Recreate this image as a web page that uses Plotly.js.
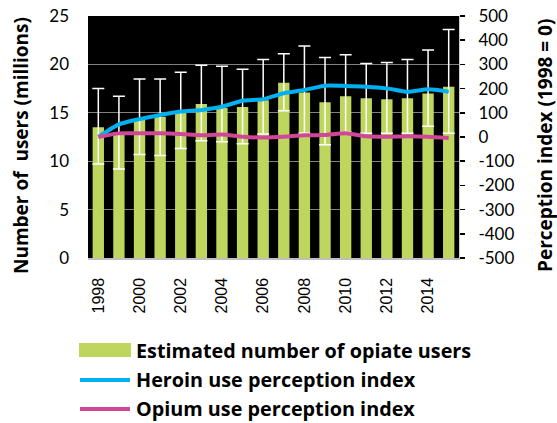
<!DOCTYPE html>
<html>
<head>
<meta charset="utf-8">
<script src="https://cdn.plot.ly/plotly-3.0.1.min.js"></script>
<style>html,body{margin:0;padding:0;background:#fff;}#chart{width:557px;height:423px;}</style>
</head>
<body>
<div id="chart"></div>
<script>
var years = [1998,1999,2000,2001,2002,2003,2004,2005,2006,2007,2008,2009,2010,2011,2012,2013,2014,2015];
var users = [13.5,13.0,14.3,14.6,15.0,15.9,15.5,15.6,16.3,18.1,17.1,16.1,16.7,16.5,16.4,16.5,17.0,17.7];
var usersHigh = [17.5,16.7,18.5,18.5,19.2,19.9,19.8,19.5,20.5,21.1,21.9,20.7,21.0,20.1,20.2,20.5,21.5,23.6];
var usersLow = [9.7,9.2,10.7,10.6,11.3,12.1,12.0,11.8,12.8,15.2,12.9,11.7,13.0,12.9,12.9,12.9,13.6,12.9];
var heroinIndex = [0,52,74,91,105,112,125,150,156,181,194,212,211,208,201,187,197,187];
var opiumIndex = [0,15,15,15,12,7,10,1,-2,1,7,8,15,3,1,3,1,-4];
var indexTicks = [-500,-400,-300,-200,-100,0,100,200,300,400,500];
var indexTickText = ['-500','-400','-300','-200','-100','0','100','200','300','400','500'];
var legendLabels = ["Estimated number of opiate users","Heroin use perception index","Opium use perception index"];

var errPlus = users.map(function(v,i){return usersHigh[i]-v;});
var errMinus = users.map(function(v,i){return v-usersLow[i];});

var green = '#bed65e', blue = '#00b0f0', pink = '#d0479a';

var traces = [
  {type:'bar', x:years, y:users, name:legendLabels[0], marker:{color:green},
   error_y:{type:'data', symmetric:false, array:errPlus, arrayminus:errMinus, color:'#ffffff', thickness:1.5, width:6},
   showlegend:false, hoverinfo:'x+y'},
  {type:'scatter', mode:'lines', x:years, y:heroinIndex, name:legendLabels[1], yaxis:'y2',
   line:{color:blue, width:4, shape:'spline', smoothing:0.6}, showlegend:false},
  {type:'scatter', mode:'lines', x:years, y:opiumIndex, name:legendLabels[2], yaxis:'y2',
   line:{color:pink, width:4, shape:'spline', smoothing:0.6}, showlegend:false}
];

var tickFont = {family:'Lato, "Liberation Sans", sans-serif', size:17, color:'#000'};
var axisTitleFont = {family:'"Open Sans", Lato, sans-serif', size:19, color:'#000', weight:'bold'};
var legendFont = {family:'"Open Sans", Lato, sans-serif', size:19.8, color:'#000', weight:'bold'};

function px2x(p){return (p-88)/371;}
function px2y(p){return (258-p)/242;}

var layout = {
  width:557, height:423,
  margin:{l:88, r:98, t:16, b:165},
  paper_bgcolor:'#ffffff',
  plot_bgcolor:'#000000',
  bargap:0.45,
  showlegend:false,
  xaxis:{range:[1997.5,2015.5], tick0:1998, dtick:2, tickangle:-90,
         tickfont:{family:'"Liberation Sans", Arial, sans-serif', size:16, color:'#000'},
         showgrid:false, zeroline:false, showline:true, linecolor:'#bfbfbf', linewidth:1.5,
         ticks:'', ticklabelstandoff:12, fixedrange:true},
  yaxis:{range:[0,25], dtick:5, tickfont:tickFont, showgrid:true, gridcolor:'#808080', gridwidth:1,
         zeroline:false, showline:false, ticks:'', ticklabelstandoff:18, fixedrange:true},
  yaxis2:{range:[-500,500], tickmode:'array', tickvals:indexTicks, ticktext:indexTickText,
          overlaying:'y', side:'right', tickfont:tickFont,
          showgrid:false, zeroline:false, showline:true, linecolor:'#d0d0d0', linewidth:1,
          ticks:'outside', ticklen:5, tickcolor:'#000', tickwidth:1.5, ticklabelstandoff:10, fixedrange:true},
  shapes:[
    {type:'rect', xref:'paper', yref:'paper', x0:px2x(79), x1:px2x(131), y0:px2y(343), y1:px2y(357),
     fillcolor:green, line:{width:0}},
    {type:'line', xref:'paper', yref:'paper', x0:px2x(80), x1:px2x(130), y0:px2y(380), y1:px2y(380),
     line:{color:blue, width:4}},
    {type:'line', xref:'paper', yref:'paper', x0:px2x(80), x1:px2x(130), y0:px2y(409), y1:px2y(409),
     line:{color:pink, width:4}}
  ],
  annotations:[
    {text:legendLabels[0], xref:'paper', yref:'paper', x:px2x(134), y:px2y(350), xanchor:'left', yanchor:'middle', showarrow:false, font:legendFont},
    {text:legendLabels[1], xref:'paper', yref:'paper', x:px2x(134), y:px2y(379), xanchor:'left', yanchor:'middle', showarrow:false, font:legendFont},
    {text:legendLabels[2], xref:'paper', yref:'paper', x:px2x(134), y:px2y(408), xanchor:'left', yanchor:'middle', showarrow:false, font:legendFont},
    {text:'Number of  users (millions)', xref:'paper', yref:'paper', x:px2x(21), y:px2y(146), xanchor:'center', yanchor:'middle', textangle:-90, showarrow:false, font:axisTitleFont},
    {text:'Perception index (1998 = 0)', xref:'paper', yref:'paper', x:px2x(545), y:px2y(146), xanchor:'center', yanchor:'middle', textangle:-90, showarrow:false, font:axisTitleFont}
  ]
};

Plotly.newPlot('chart', traces, layout, {displayModeBar:false, staticPlot:true});
</script>
</body>
</html>
